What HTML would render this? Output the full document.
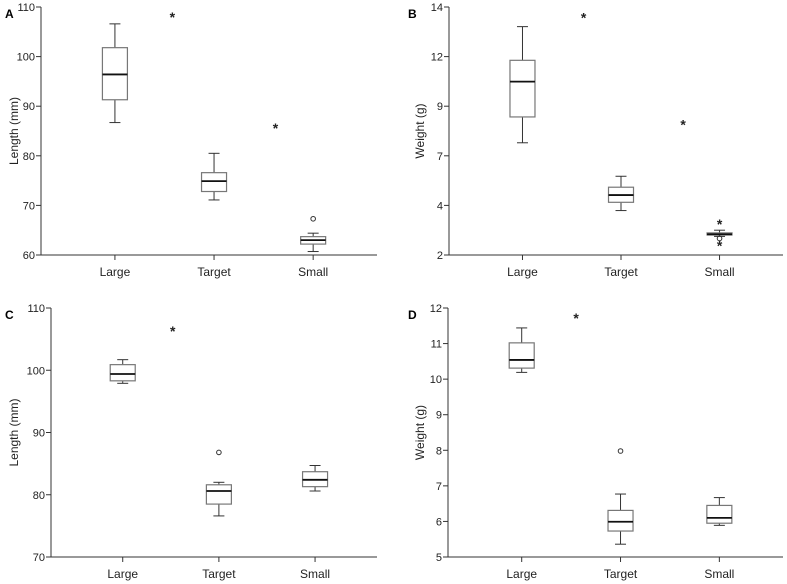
<!DOCTYPE html>
<html><head><meta charset="utf-8"><style>
body{margin:0;background:#fff;}
svg{display:block;font-family:"Liberation Sans",Arial,sans-serif;}
</style></head><body>
<svg id="chart" width="787" height="584" viewBox="0 0 787 584"></svg>
<script>
const categories = ["Large","Target","Small"];
// Panel A: Length (mm)
const aWhiskerLow = [86.7, 71.1, 60.7];
const aQ1 = [91.3, 72.8, 62.2];
const aMedian = [96.4, 74.9, 63.0];
const aQ3 = [101.8, 76.6, 63.7];
const aWhiskerHigh = [106.6, 80.5, 64.4];
const aOutliers = [[0.58,108.4,"star"],[1.62,86.0,"star"],[2,67.3,"circle"]];
const aTicks = [60,70,80,90,100,110];
const aTickLabels = ["60","70","80","90","100","110"];
// Panel B: Weight (g)
const bWhiskerLow = [7.43, 4.15, 2.9];
const bQ1 = [8.68, 4.55, 2.97];
const bMedian = [10.39, 4.9, 3.0];
const bQ3 = [11.42, 5.28, 3.07];
const bWhiskerHigh = [13.05, 5.81, 3.2];
const bOutliers = [[0.62,13.6,"star"],[1.63,8.4,"star"],[2,3.6,"star"],[2,2.8,"circle"],[2,2.55,"star"]];
const bTicks = [2,4.4,6.8,9.2,11.6,14];
const bTickLabels = ["2","4","7","9","12","14"];
// Panel C: Length (mm)
const cWhiskerLow = [97.9, 76.6, 80.6];
const cQ1 = [98.3, 78.5, 81.3];
const cMedian = [99.4, 80.6, 82.4];
const cQ3 = [100.9, 81.6, 83.7];
const cWhiskerHigh = [101.7, 82.0, 84.7];
const cOutliers = [[0.52,106.6,"star"],[1,86.8,"circle"]];
const cTicks = [70,80,90,100,110];
const cTickLabels = ["70","80","90","100","110"];
// Panel D: Weight (g)
const dWhiskerLow = [10.19, 5.36, 5.89];
const dQ1 = [10.31, 5.73, 5.95];
const dMedian = [10.54, 5.99, 6.10];
const dQ3 = [11.02, 6.31, 6.45];
const dWhiskerHigh = [11.44, 6.77, 6.67];
const dOutliers = [[0.55,11.77,"star"],[1,7.98,"circle"]];
const dTicks = [5,6,7,8,9,10,11,12];
const dTickLabels = ["5","6","7","8","9","10","11","12"];

const NS="http://www.w3.org/2000/svg";
const svg=document.getElementById('chart');
function mk(tag,attrs,parent){const e=document.createElementNS(NS,tag);for(const k in attrs)e.setAttribute(k,attrs[k]);(parent||svg).appendChild(e);return e;}

const panels=[
 {id:"a",letter:"A",ylab:"Length (mm)",left:41,right:377,top:7,bottom:255,lx:5,labx:14,min:60,max:110,lo:aWhiskerLow,q1:aQ1,med:aMedian,q3:aQ3,hi:aWhiskerHigh,out:aOutliers,ticks:aTicks,tl:aTickLabels},
 {id:"b",letter:"B",ylab:"Weight (g)",left:449,right:783,top:7,bottom:255,lx:408,labx:420,min:2,max:14,lo:bWhiskerLow,q1:bQ1,med:bMedian,q3:bQ3,hi:bWhiskerHigh,out:bOutliers,ticks:bTicks,tl:bTickLabels},
 {id:"c",letter:"C",ylab:"Length (mm)",left:51,right:377,top:308,bottom:557,lx:5,labx:14,min:70,max:110,lo:cWhiskerLow,q1:cQ1,med:cMedian,q3:cQ3,hi:cWhiskerHigh,out:cOutliers,ticks:cTicks,tl:cTickLabels},
 {id:"d",letter:"D",ylab:"Weight (g)",left:448,right:783,top:308,bottom:557,lx:408,labx:420,min:5,max:12,lo:dWhiskerLow,q1:dQ1,med:dMedian,q3:dQ3,hi:dWhiskerHigh,out:dOutliers,ticks:dTicks,tl:dTickLabels}
];

panels.forEach(p=>{
 const g=mk('g',{});
 
 
 const y=v=>p.bottom-(v-p.min)/(p.max-p.min)*(p.bottom-p.top);
 const w=p.right-p.left;
 const x=i=>p.left+w*(0.22+0.295*i);
 const lt=mk('text',{x:p.lx,y:p.top+11,'font-size':12,'font-weight':'bold',fill:'#000'},g);
 lt.textContent=p.letter;
 
 
 const yl=mk('text',{x:p.labx,y:(p.top+p.bottom)/2,'font-size':12,'text-anchor':'middle',transform:`rotate(-90 ${p.labx} ${(p.top+p.bottom)/2})`,dy:4,fill:'#222'},g);
 yl.textContent=p.ylab;
 
 
 const ax=mk('path',{d:`M${p.left},${p.top}V${p.bottom}H${p.right}`,stroke:'#333',fill:'none','stroke-width':1},g);
 
 
 p.ticks.forEach((t,i)=>{
  mk('line',{x1:p.left-5,x2:p.left,y1:y(t),y2:y(t),stroke:'#333'},g);
  const tx=mk('text',{x:p.left-6,y:y(t)+4,'font-size':11,'text-anchor':'end',fill:'#222'},g);
  tx.textContent=p.tl[i];
  
  
 });
 categories.forEach((c,i)=>{
  const cx=x(i);
  mk('line',{x1:cx,x2:cx,y1:p.bottom,y2:p.bottom+5,stroke:'#333'},g);
  const tx=mk('text',{x:cx,y:p.bottom+21,'font-size':12,'text-anchor':'middle',fill:'#222'},g);
  tx.textContent=c;
  
  
  const bg=mk('g',{},g);
  
  
  const bw=25,cw=11;
  mk('line',{x1:cx,x2:cx,y1:y(p.hi[i]),y2:y(p.q3[i]),stroke:'#333'},bg);
  mk('line',{x1:cx,x2:cx,y1:y(p.q1[i]),y2:y(p.lo[i]),stroke:'#333'},bg);
  mk('line',{x1:cx-cw/2,x2:cx+cw/2,y1:y(p.hi[i]),y2:y(p.hi[i]),stroke:'#333'},bg);
  mk('line',{x1:cx-cw/2,x2:cx+cw/2,y1:y(p.lo[i]),y2:y(p.lo[i]),stroke:'#333'},bg);
  mk('rect',{x:cx-bw/2,y:y(p.q3[i]),width:bw,height:Math.max(0.5,y(p.q1[i])-y(p.q3[i])),fill:'#fff',stroke:'#777','stroke-width':1.2},bg);
  mk('line',{x1:cx-bw/2,x2:cx+bw/2,y1:y(p.med[i]),y2:y(p.med[i]),stroke:'#111','stroke-width':1.8},bg);
 });
 p.out.forEach(o=>{
  const ox=x(o[0]),oy=y(o[1]);
  let e;
  if(o[2]==="circle"){e=mk('circle',{cx:ox,cy:oy,r:2.3,fill:'none',stroke:'#333'},g);}
  else{e=mk('text',{x:ox,y:oy+7,'font-size':14,'font-weight':'bold','text-anchor':'middle',fill:'#222'},g);e.textContent='*';}
  
  
 });
});
</script>
</body></html>
